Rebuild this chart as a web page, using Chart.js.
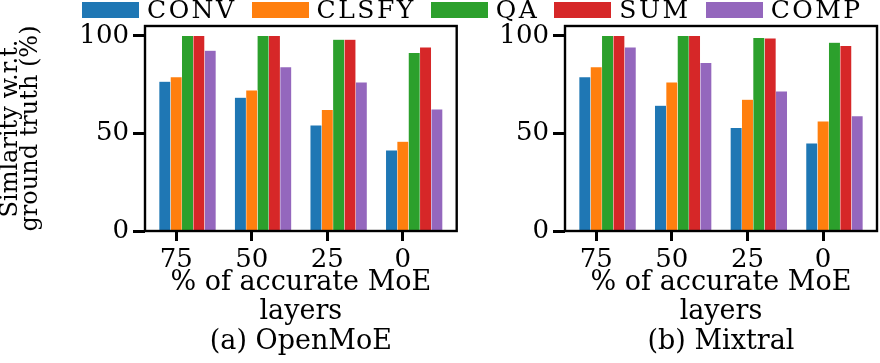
<!DOCTYPE html>
<html>
<head>
<meta charset="utf-8">
<script src="https://cdn.jsdelivr.net/npm/chart.js@4.4.1/dist/chart.umd.min.js"></script>
<style>
  html, body { margin: 0; padding: 0; background: #fff; }
  #wrap { position: relative; width: 880px; height: 363px; overflow: hidden; }
  .panel { position: absolute; top: 0; height: 363px; }
  #legend { position: absolute; top: 2px; left: 82px; display: flex; gap: 15px;
            font-family: 'DejaVu Serif', serif; font-size: 25px; letter-spacing: 2.5px; line-height: 16px; color: #000; }
  .item { display: flex; align-items: center; }
  .swatch { width: 57px; height: 16px; margin-right: 8px; }
</style>
</head>
<body>
<div id="wrap">
  <div class="panel" style="left:0;width:460px"><canvas id="openmoe"></canvas></div>
  <div class="panel" style="left:460px;width:420px"><canvas id="mixtral"></canvas></div>
  <div id="legend"></div>
</div>
<script>
const series = ['CONV', 'CLSFY', 'QA', 'SUM', 'COMP'];
const colors = ['#1f77b4', '#ff7f0e', '#2ca02c', '#d62728', '#9467bd'];
const xLabels = ['75', '50', '25', '0'];
const yTicks = [0, 50, 100];

// OpenMoE
const openmoeConv  = [76.5, 68.3, 54.1, 41.3];
const openmoeClsfy = [78.9, 72.1, 62.0, 45.8];
const openmoeQa    = [100, 100, 98.0, 91.3];
const openmoeSum   = [100, 100, 98.0, 94.1];
const openmoeComp  = [92.4, 84.0, 76.2, 62.3];

// Mixtral
const mixtralConv  = [78.9, 64.2, 52.9, 44.9];
const mixtralClsfy = [84.0, 76.2, 67.3, 56.2];
const mixtralQa    = [100, 100, 99.0, 96.5];
const mixtralSum   = [100, 100, 98.7, 94.9];
const mixtralComp  = [94.1, 86.1, 71.6, 58.9];

const barWidth = 0.15;

// legend shared by both panels
const legendBox = document.getElementById('legend');
series.forEach((name, k) => {
    const item = document.createElement('div');
    item.className = 'item';
    item.innerHTML = '<span class="swatch" style="background:' + colors[k] + '"></span><span>' + name + '</span>';
    legendBox.appendChild(item);
});

// box around the plot area (all four spines)
const frame = {
    id: 'frame',
    afterDatasetsDraw(chart) {
        const { ctx, chartArea: a } = chart;
        ctx.save();
        ctx.strokeStyle = '#000';
        ctx.lineWidth = 2.4;
        ctx.strokeRect(a.left, a.top, a.right - a.left, a.bottom - a.top);
        ctx.restore();
    }
};

function makeChart(id, values, yWidth, padRight, yTitle, caption) {
    const datasets = series.map((name, k) => ({
        label: name,
        data: values[k].map((v, i) => ({ x: i + (k - 1) * barWidth, y: v })),
        backgroundColor: colors[k],
        borderColor: 'rgba(255,255,255,0.7)',
        borderWidth: 0.5,
        grouped: false,
        barPercentage: 1,
        categoryPercentage: 1
    }));

    return new Chart(document.getElementById(id), {
        type: 'bar',
        data: { datasets: datasets },
        plugins: [frame],
        options: {
            responsive: true,
            maintainAspectRatio: false,
            animation: false,
            layout: { padding: { top: 26, right: padRight, bottom: 6, left: 0 } },
            plugins: {
                legend: { display: false },
                tooltip: { enabled: false }
            },
            scales: {
                x: {
                    type: 'linear',
                    offset: false,
                    min: -0.4125,
                    max: 3.7125,
                    afterBuildTicks: s => { s.ticks = xLabels.map((_, i) => ({ value: i })); },
                    afterFit: s => { s.height = 126; },
                    border: { display: false },
                    grid: { offset: false, drawOnChartArea: false, drawTicks: true, tickLength: 10, tickWidth: 3, color: '#000' },
                    ticks: {
                        color: '#000',
                        padding: 4,
                        maxRotation: 0,
                        font: { family: 'DejaVu Serif', size: 26 },
                        callback: v => xLabels[v]
                    },
                    title: {
                        display: true,
                        text: ['% of accurate MoE', 'layers', caption],
                        color: '#000',
                        padding: 0,
                        font: { family: 'DejaVu Serif', size: 27, lineHeight: 1.1 }
                    }
                },
                y: {
                    min: 0,
                    max: 105,
                    afterBuildTicks: s => { s.ticks = yTicks.map(v => ({ value: v })); },
                    afterFit: s => { s.width = yWidth; },
                    border: { display: false },
                    grid: { drawOnChartArea: false, drawTicks: true, tickLength: 12, tickWidth: 3, color: '#000' },
                    ticks: {
                        color: '#000',
                        padding: 4,
                        font: { family: 'DejaVu Serif', size: 26 }
                    },
                    title: {
                        display: !!yTitle,
                        text: yTitle || '',
                        color: '#000',
                        padding: { top: 1, bottom: 0 },
                        font: { family: 'DejaVu Serif', size: 24, lineHeight: 0.84 }
                    }
                }
            }
        }
    });
}

makeChart('openmoe',
    [openmoeConv, openmoeClsfy, openmoeQa, openmoeSum, openmoeComp],
    145, 3.3, ['Simlarity w.r.t.', 'ground truth (%)'], '(a) OpenMoE');

makeChart('mixtral',
    [mixtralConv, mixtralClsfy, mixtralQa, mixtralSum, mixtralComp],
    105, 3, null, '(b) Mixtral');
</script>
</body>
</html>
